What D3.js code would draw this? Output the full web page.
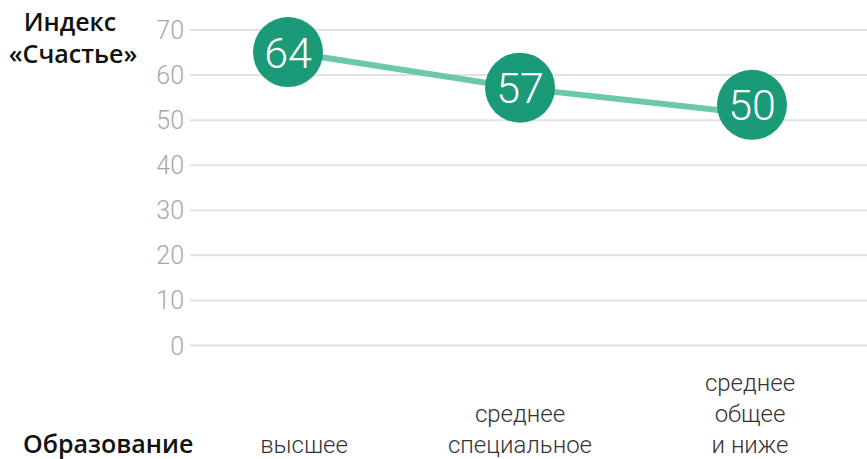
<!DOCTYPE html>
<html>
<head>
<meta charset="utf-8">
<script src="https://cdn.jsdelivr.net/npm/d3@7"></script>
<style>
  body { margin: 0; background: #fff; }
</style>
</head>
<body>
<div id="chart"></div>
<script>
  // Chart data
  var categories = ['высшее', 'среднее специальное', 'среднее общее и ниже'];
  var categoryLines = [['высшее'], ['среднее', 'специальное'], ['среднее', 'общее', 'и ниже']];
  var lineValues = [65.1, 57.1, 51.4];     // where the line passes
  var markerValues = [65.1, 57.2, 53.4];   // where the circles sit
  var markerLabels = ['64', '57', '50'];
  var yTicks = [0, 10, 20, 30, 40, 50, 60, 70];

  var outerWidth = 867;
  var outerHeight = 459;

  var svg = d3.select('#chart').append('svg')
    .attr('width', outerWidth)
    .attr('height', outerHeight);

  // Scales
  var x = d3.scalePoint().domain(categories).range([288, 752]);
  var y = d3.scaleLinear().domain([0, 70]).range([345.5, 30]);

  // Grid lines and tick labels
  var grid = svg.append('g');
  grid.selectAll('line')
    .data(yTicks)
    .enter().append('line')
      .attr('x1', 190)
      .attr('x2', outerWidth)
      .attr('y1', function(d) { return y(d); })
      .attr('y2', function(d) { return y(d); })
      .style('stroke', '#e2e2e2')
      .style('stroke-width', 2);

  grid.selectAll('text')
    .data(yTicks)
    .enter().append('text')
      .attr('x', 184)
      .attr('y', function(d) { return y(d); })
      .attr('dy', '0.36em')
      .attr('text-anchor', 'end')
      .style('font', '300 25px Roboto, sans-serif')
      .style('fill', '#a8a8a8')
      .text(function(d) { return d; });

  // Y heading
  var heading = svg.append('text')
    .attr('text-anchor', 'middle')
    .style('font', '600 25px "Open Sans", sans-serif')
    .style('fill', '#111');
  heading.append('tspan').attr('x', 70).attr('y', 31).text('Индекс');
  heading.append('tspan').attr('x', 73).attr('y', 63).text('«Счастье»');

  // X heading
  svg.append('text')
    .attr('x', 23)
    .attr('y', 453)
    .style('font', '600 25px "Open Sans", sans-serif')
    .style('fill', '#111')
    .text('Образование');

  // Line
  var line = d3.line()
    .x(function(d, i) { return x(categories[i]); })
    .y(function(d) { return y(d); });

  svg.append('path')
    .datum(lineValues)
    .attr('d', line)
    .style('fill', 'none')
    .style('stroke', '#6cc9a6')
    .style('stroke-width', 6);

  // Markers
  var marker = svg.selectAll('.marker')
    .data(markerValues)
    .enter().append('g')
      .attr('class', 'marker')
      .attr('transform', function(d, i) {
        return 'translate(' + x(categories[i]) + ',' + y(d) + ')';
      });

  marker.append('circle')
    .attr('r', 35)
    .style('fill', '#1a9a76');

  marker.append('text')
    .attr('text-anchor', 'middle')
    .attr('dy', '0.36em')
    .style('font', '300 43px Roboto, sans-serif')
    .style('fill', '#fff')
    .text(function(d, i) { return markerLabels[i]; });

  // Category labels, bottom aligned
  var lineHeight = 31;
  svg.selectAll('.cat')
    .data(categoryLines)
    .enter().append('text')
      .attr('class', 'cat')
      .attr('text-anchor', 'middle')
      .style('font', '300 24px Roboto, sans-serif')
      .style('fill', '#333')
      .each(function(lines, i) {
        var t = d3.select(this);
        var cx = x(categories[i]) + [16, 0, -2][i];
        lines.forEach(function(s, j) {
          t.append('tspan')
            .attr('x', cx)
            .attr('y', 453 - (lines.length - 1 - j) * lineHeight)
            .text(s);
        });
      });
</script>
</body>
</html>
